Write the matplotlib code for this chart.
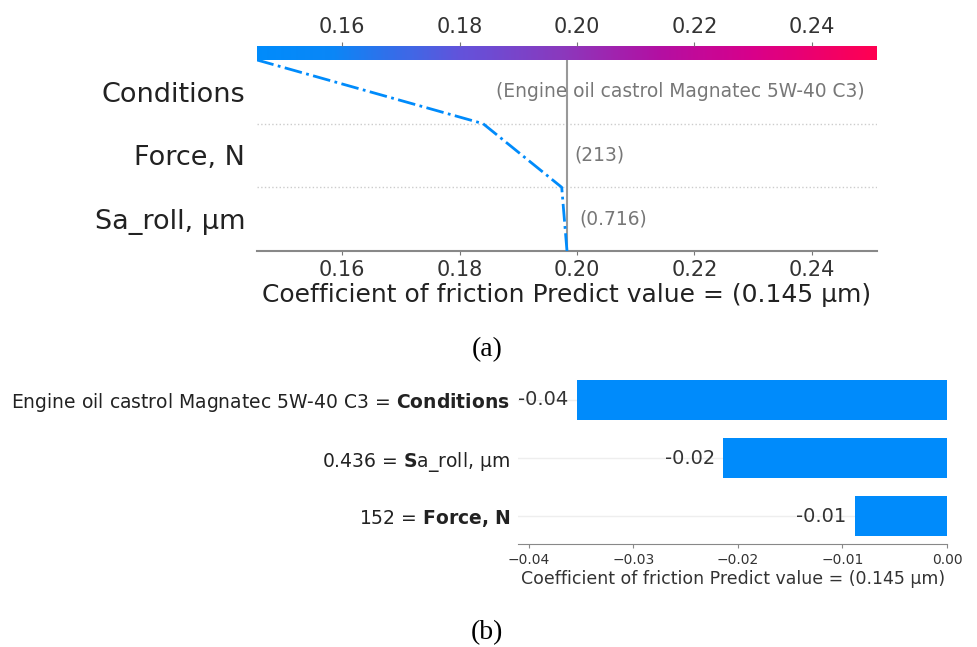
import numpy as np
import matplotlib
matplotlib.use("Agg")
import matplotlib.pyplot as plt
from matplotlib.colors import LinearSegmentedColormap, Normalize
from matplotlib.cm import ScalarMappable

# (a) decision plot, features listed bottom -> top
base_value = 0.1983
dec_features = ["Sa_roll, µm", "Force, N", "Conditions"]
dec_shap = [-0.0009, -0.0134, -0.0385]
dec_values = ["0.716", "213", "Engine oil castrol Magnatec 5W-40 C3"]
dec_xlim = (0.1455, 0.2511)
dec_ticks = [0.16, 0.18, 0.20, 0.22, 0.24]

# (b) bar plot, features listed top -> bottom
bar_labels = [r"Engine oil castrol Magnatec 5W-40 C3 = $\mathbf{Conditions}$",
              r"0.436 = $\mathbf{S}$a_roll, µm",
              r"152 = $\mathbf{Force{,}\ N}$"]
bar_shap = [-0.0354, -0.0214, -0.0088]
bar_ticks = [-0.04, -0.03, -0.02, -0.01, 0.00]
bar_xlim = (-0.041, 0.0)

xlabel = "Coefficient of friction Predict value = (0.145 µm)"

# shap-like red/blue colormap
cmap = LinearSegmentedColormap.from_list(
    "red_blue",
    [(0.0, "#008bfb"), (0.12, "#0a86f6"), (0.33, "#6352da"),
     (0.5, "#8c37bb"), (0.65, "#b30fa2"), (0.8, "#d8008a"), (1.0, "#ff0051")])
norm = Normalize(*dec_xlim)

fig = plt.figure(figsize=(9.78, 6.47), dpi=100)

# ---------- panel (a) ----------
ax1 = fig.add_axes([0.2628, 0.6121, 0.6339, 0.2952])
cax = fig.add_axes([0.2628, 0.9073, 0.6339, 0.0216])

n = len(dec_shap)
y = np.arange(n + 1)
x = base_value + np.concatenate([[0.0], np.cumsum(dec_shap)])

ax1.axvline(base_value, color="#999999", lw=1.5, zorder=1)
for yy in range(1, n):
    ax1.axhline(yy, color="#cccccc", ls=":", lw=1, zorder=0)
ax1.plot(x, y, color=cmap(norm(x[-1])), lw=2, ls="-.", zorder=3)

for i in range(n):
    ax1.annotate(f"({dec_values[i]})", xy=(max(x[i], x[i + 1]), i + 0.5),
                 xytext=(9, 0), textcoords="offset points",
                 ha="left", va="center", fontsize=13.4, color="#777777")

ax1.set_xlim(dec_xlim)
ax1.set_ylim(0, n)
ax1.set_yticks(np.arange(n) + 0.5, dec_features, fontsize=19.5, color="#222222")
ax1.set_xticks(dec_ticks)
ax1.tick_params(axis="y", length=0, pad=8.6)
ax1.tick_params(axis="x", labelsize=15, labelcolor="#333333", color="#777777", length=3)
for s in ["left", "right", "top"]:
    ax1.spines[s].set_visible(False)
ax1.spines["bottom"].set_color("#888888")
ax1.spines["bottom"].set_linewidth(1.5)
ax1.set_xlabel(xlabel, fontsize=18, color="#222222", labelpad=2)

cb = fig.colorbar(ScalarMappable(norm=norm, cmap=cmap), cax=cax, orientation="horizontal")
cb.outline.set_visible(False)
cax.xaxis.set_ticks_position("top")
cb.set_ticks(dec_ticks)
cax.tick_params(labelsize=15, labelcolor="#333333", color="#777777", length=3)

# ---------- panel (b) ----------
ax2 = fig.add_axes([0.5297, 0.1592, 0.4387, 0.2658])
yb = np.arange(len(bar_shap))
for yy in yb:
    ax2.axhline(yy, color="#eeeeee", lw=1, zorder=0)
ax2.barh(yb, bar_shap, height=0.69, color="#008bfb", zorder=2)
for yy, v in zip(yb, bar_shap):
    ax2.annotate(f"{v:.2f}", xy=(v, yy), xytext=(-6, 0), textcoords="offset points",
                 ha="right", va="center", fontsize=14, color="#333333")

ax2.set_xlim(bar_xlim)
ax2.set_ylim(len(bar_shap) - 0.52, -0.48)
ax2.set_yticks(yb, bar_labels, fontsize=13.5, color="#222222")
ax2.set_xticks(bar_ticks)
ax2.tick_params(axis="y", length=0, pad=5.8)
ax2.tick_params(axis="x", labelsize=10, labelcolor="#333333", color="#888888", length=3)
for s in ["left", "right", "top"]:
    ax2.spines[s].set_visible(False)
ax2.spines["bottom"].set_color("#888888")
ax2.set_xlabel(xlabel, fontsize=12.5, color="#333333", labelpad=2)

fig.text(0.498, 0.459, "(a)", family="Liberation Serif", fontsize=20, ha="center", va="center")
fig.text(0.498, 0.023, "(b)", family="Liberation Serif", fontsize=20, ha="center", va="center")

fig.savefig("out.png", dpi=100)
